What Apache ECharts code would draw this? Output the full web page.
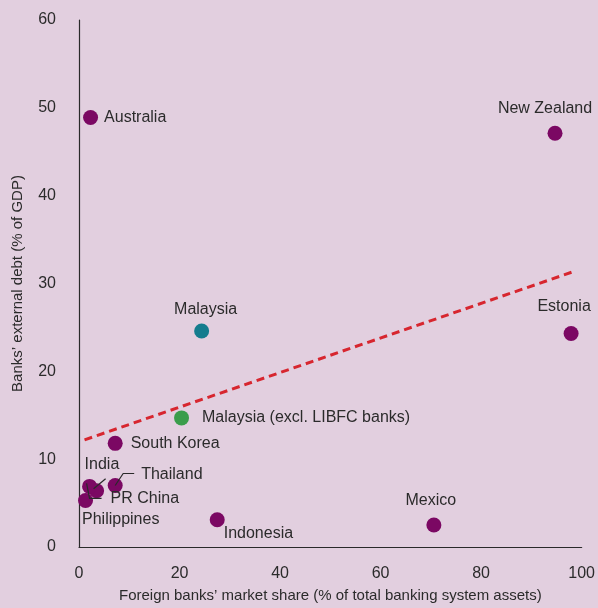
<!DOCTYPE html>
<html>
<head>
<meta charset="utf-8">
<script src="https://cdn.jsdelivr.net/npm/echarts@6/dist/echarts.min.js"></script>
<style>
html,body{margin:0;padding:0;background:#e2cfdf;overflow:hidden;}
#c{width:598px;height:608px;}
</style>
</head>
<body>
<div id="c"></div>
<script>
// Data (x: foreign banks' market share %, y: banks' external debt % of GDP)
const countries = ['Australia','New Zealand','Estonia','Mexico','Indonesia','South Korea','Philippines'];
const countryX  = [2.3, 94.7, 97.9, 70.6, 27.5, 7.2, 1.3];
const countryY  = [48.9, 47.1, 24.3, 2.5, 3.1, 11.8, 5.3];

const guided   = ['Thailand','India','PR China'];
const guidedX  = [7.2, 3.5, 2.1];
const guidedY  = [7.0, 6.4, 6.9];

const malaysia = [24.4, 24.6];
const malaysiaExcl = [20.4, 14.7];

const trendX = [1.1, 98.1];
const trendY = [12.2, 31.3];

const xTicks = [0, 20, 40, 60, 80, 100];
const yTicks = [0, 10, 20, 30, 40, 50, 60];

const PURPLE = '#7b0863', TEAL = '#147c8e', GREEN = '#3a9d4b', RED = '#d7262f', TXT = '#2b2b2b';
const FONT = 'Liberation Sans, Arial, Helvetica, sans-serif';
const FS = 16;

const labelStyles = {
  'Australia':   {position: 'right', distance: 6},
  'New Zealand': {position: 'top', distance: 9, offset: [-10, 0]},
  'Estonia':     {position: 'top', distance: 11, offset: [-7, 0]},
  'Mexico':      {position: 'top', distance: 9, offset: [-3, 0]},
  'Indonesia':   {position: [14, 13], align: 'left', verticalAlign: 'top'},
  'South Korea': {position: 'right', distance: 8},
  'Philippines': {position: [4, 19], align: 'left', verticalAlign: 'top'}
};
// leader polylines (pixel offsets from the point) and label anchor (left-middle)
const guideGeom = {
  'Thailand': {line: [[0, 0], [8, -12], [19, -12]], text: [26, -11]},
  'India':    {line: [[-3, -2], [9, -12]], text: [-12, -26]},
  'PR China': {line: [[-3, -3], [0, 12], [12, 12]], text: [21, 12]}
};

const chart = echarts.init(document.getElementById('c'), null, {renderer: 'canvas'});

const baseLabel = {show: true, color: TXT, fontSize: FS, fontFamily: FONT, formatter: p => p.data.name};

chart.setOption({
  backgroundColor: '#e2cfdf',
  animation: false,
  textStyle: {fontFamily: FONT},
  grid: {left: 79, right: 15, top: 20, bottom: 57, containLabel: false},
  xAxis: {
    type: 'value', min: xTicks[0], max: xTicks[xTicks.length - 1], interval: 20,
    name: "Foreign banks\u2019 market share (% of total banking system assets)",
    nameLocation: 'middle', nameGap: 41,
    nameTextStyle: {color: TXT, fontSize: 15, fontFamily: FONT, verticalAlign: 'top'},
    axisLine: {show: true, onZero: false, lineStyle: {color: '#2a2a2a', width: 1.2}},
    axisTick: {show: false},
    splitLine: {show: false},
    axisLabel: {color: TXT, fontSize: FS, fontFamily: FONT, margin: 19}
  },
  yAxis: {
    type: 'value', min: yTicks[0], max: yTicks[yTicks.length - 1], interval: 10,
    name: "Banks\u2019 external debt (% of GDP)",
    nameLocation: 'middle', nameGap: 54, nameRotate: 90,
    nameTextStyle: {color: TXT, fontSize: 15, fontFamily: FONT},
    axisLine: {show: true, onZero: false, lineStyle: {color: '#2a2a2a', width: 1.2}},
    axisTick: {show: false},
    splitLine: {show: false},
    axisLabel: {color: TXT, fontSize: FS, fontFamily: FONT, margin: 23}
  },
  series: [
    {
      type: 'line', data: trendX.map((x, i) => [x, trendY[i]]),
      symbol: 'none', silent: true, z: 1,
      lineStyle: {color: RED, width: 3, type: [8, 5]}
    },
    {
      type: 'scatter', symbolSize: 15, z: 3,
      itemStyle: {color: PURPLE, opacity: 1},
      data: countries.map((n, i) => ({
        name: n, value: [countryX[i], countryY[i]],
        label: Object.assign({}, baseLabel, labelStyles[n])
      })),
      label: baseLabel
    },
    {
      type: 'scatter', symbolSize: 15, z: 3,
      itemStyle: {color: PURPLE, opacity: 1},
      data: guided.map((n, i) => ({name: n, value: [guidedX[i], guidedY[i]]}))
    },
    {
      type: 'custom', z: 4, silent: true,
      data: guided.map((n, i) => ({name: n, value: [guidedX[i], guidedY[i]]})),
      renderItem: function (params, api) {
        const name = guided[params.dataIndex];
        const g = guideGeom[name];
        const c = api.coord([api.value(0), api.value(1)]);
        return {
          type: 'group',
          children: [
            {type: 'polyline', shape: {points: g.line.map(p => [c[0] + p[0], c[1] + p[1]])},
             style: {stroke: '#2a2a2a', lineWidth: 1.2, fill: null}},
            {type: 'text', x: c[0] + g.text[0], y: c[1] + g.text[1],
             style: {text: name, fill: TXT, fontSize: FS, fontFamily: FONT, align: 'left', verticalAlign: 'middle'}}
          ]
        };
      }
    },
    {
      type: 'scatter', symbolSize: 15, z: 3,
      itemStyle: {color: TEAL, opacity: 1},
      data: [{name: 'Malaysia', value: malaysia}],
      label: Object.assign({}, baseLabel, {position: 'top', distance: 6, offset: [4, 0]})
    },
    {
      type: 'scatter', symbolSize: 15, z: 3,
      itemStyle: {color: GREEN, opacity: 1},
      data: [{name: 'Malaysia (excl. LIBFC banks)', value: malaysiaExcl}],
      label: Object.assign({}, baseLabel, {position: 'right', distance: 13})
    }
  ]
});
</script>
</body>
</html>
